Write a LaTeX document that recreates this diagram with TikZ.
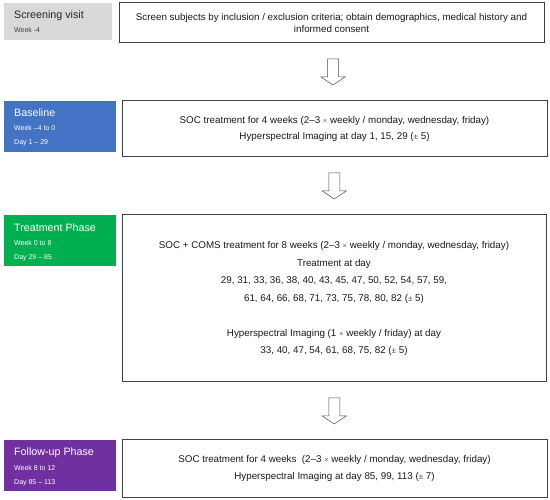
\documentclass[tikz,border=0pt]{standalone}
\usepackage{fontspec}
\setmainfont{Liberation Sans}
\usetikzlibrary{calc}
\definecolor{grayph}{HTML}{D9D9D9}
\definecolor{blueph}{HTML}{4472C4}
\definecolor{greenph}{HTML}{00B050}
\definecolor{purpleph}{HTML}{7030A0}
\newcommand\smtimes{{\fontsize{7.5}{8}\selectfont\color{black!65}×}}
\newcommand\smpm{{\fontsize{8}{8}\selectfont\color{black!70}±}}
\begin{document}
\begin{tikzpicture}[x=1pt, y=-1pt,
		phase/.style={anchor=north west, inner sep=0pt, minimum width=112pt, minimum height=51pt},
		ttl/.style={anchor=base west, inner sep=0pt, font=\fontsize{10.7}{12}\selectfont, white},
		sub/.style={anchor=base west, inner sep=0pt, font=\fontsize{7}{8}\selectfont, white},
		plan/.style={draw=black!75, line width=1pt, align=center, inner sep=0pt, text=black!90},
		blockarrow/.pic={\draw[black!70, line width=.5pt, fill=white](-5.5, -13)--(5.5, -13)--(5.5, 5)--(12, 5)--(0, 13)--(-12, 5)--(-5.5, 5)--cycle;}]
		\useasboundingbox(0, 0)rectangle(550, 500);
		% phases
		\node[phase, fill=grayph, minimum width=108pt, minimum height=37pt](scrph)at(4, 3){};
		\node[ttl, black!85](scrttl)at(14, 19){Screening visit};
		\node[sub, black!75](scrwk)at(14, 32.5){Week -4};
		\node[phase, fill=blueph](baseph)at(4, 101){};
		\node[ttl](basettl)at(14, 117){Baseline};
		\node[sub](basewk)at(14, 130.5){Week –4 to 0};
		\node[sub](baseday)at(14, 144.5){Day 1 – 29};
		\node[phase, fill=greenph](trtph)at(4, 215){};
		\node[ttl](trtttl)at(14, 232){Treatment Phase};
		\node[sub](trtwk)at(14, 245.5){Week 0 to 8};
		\node[sub](trtday)at(14, 259.5){Day 29 – 85};
		\node[phase, fill=purpleph](fupph)at(4, 440){};
		\node[ttl](fupttl)at(14, 456){Follow-up Phase};
		\node[sub](fupwk)at(14, 470.5){Week 8 to 12};
		\node[sub](fupday)at(14, 484.5){Day 85 – 113};
		% boxes
		\node[plan, minimum width=425pt, minimum height=40pt, font=\fontsize{9.8}{12.5}\selectfont](scrbox)at(331.5, 23){Screen subjects by inclusion / exclusion criteria; obtain demographics, medical history and\\informed consent};
		\node[plan, minimum width=425pt, minimum height=56pt, font=\fontsize{9.8}{16}\selectfont](basebox)at(334.5, 129){SOC treatment for 4 weeks (2–3 \smtimes\ weekly / monday, wednesday, friday)\\Hyperspectral Imaging at day 1, 15, 29 (\smpm\ 5)};
		\node[plan, minimum width=424pt, minimum height=167pt, font=\fontsize{9.8}{17.5}\selectfont](trtbox)at(334, 298.5){SOC + COMS treatment for 8 weeks (2–3 \smtimes\ weekly / monday, wednesday, friday)\\Treatment at day\\29, 31, 33, 36, 38, 40, 43, 45, 47, 50, 52, 54, 57, 59,\\61, 64, 66, 68, 71, 73, 75, 78, 80, 82 (\smpm\ 5)\\[17.5pt]Hyperspectral Imaging (1 \smtimes\ weekly / friday) at day\\33, 40, 47, 54, 61, 68, 75, 82 (\smpm\ 5)};
		\node[plan, minimum width=425pt, minimum height=57pt, font=\fontsize{9.8}{17}\selectfont](fupbox)at(334.5, 468.5){SOC treatment for 4 weeks~ (2–3 \smtimes\ weekly / monday, wednesday, friday)\\Hyperspectral Imaging at day 85, 99, 113 (\smpm\ 7)};
		% arrows
		\pic at($(scrbox.south)!.5!(basebox.north)$){blockarrow};
		\pic at($(basebox.south)!.5!(trtbox.north)$){blockarrow};
		\pic at($(trtbox.south)!.5!(fupbox.north)$){blockarrow};
	\end{tikzpicture}
\end{document}
